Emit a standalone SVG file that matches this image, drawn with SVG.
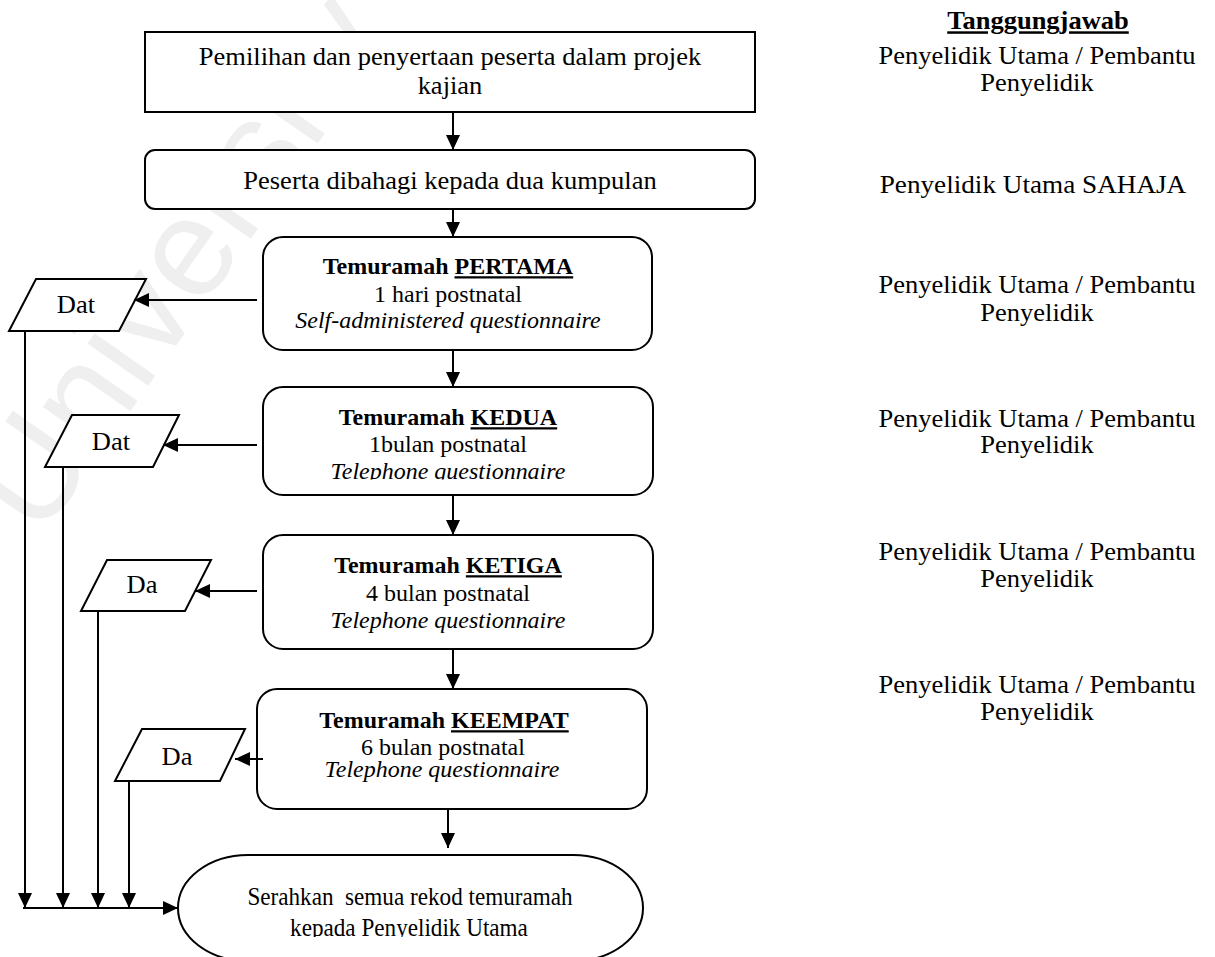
<svg xmlns="http://www.w3.org/2000/svg" width="1215" height="957" viewBox="0 0 1215 957">
  <defs>
    <style>
      .box{fill:#fff;stroke:#000;stroke-width:2}
      .t{font-family:"Liberation Serif","Times New Roman",serif;fill:#000;text-anchor:middle;
         transform-box:fill-box;transform-origin:50% 100%;transform:scaleY(0.94)}
      .big{font-size:26.5px}
      .med{font-size:24px}
      .sm{font-size:24.5px;transform:scale(0.945,1)}
      .b{font-weight:bold}
      .i{font-style:italic}
      .u{text-decoration:underline}
      .wire{fill:none;stroke:#000;stroke-width:2}
      .wm{font-family:"Liberation Sans",Arial,sans-serif;font-size:140px;fill:#efefef}
    </style>
    <marker id="ah" markerUnits="userSpaceOnUse" markerWidth="15" markerHeight="14" refX="15" refY="7" orient="auto">
      <path d="M0,0 L15,7 L0,14 z" fill="#000"/>
    </marker>
    <clipPath id="clipKedua"><rect x="260" y="380" width="400" height="99.5"/></clipPath>
    <clipPath id="clipEnd"><rect x="170" y="850" width="480" height="87"/></clipPath>
  </defs>

  <rect x="0" y="0" width="1215" height="957" fill="#fff"/>

  <!-- background watermark -->
  <text class="wm" transform="translate(40,540) rotate(-55)">University</text>

  <!-- responsibility column -->
  <g id="responsibility">
    <text class="t big b" x="1038" y="29"><tspan class="u">Tanggungjawab</tspan></text>
    <text class="t big" x="1037" y="64">Penyelidik Utama / Pembantu</text>
    <text class="t big" x="1037" y="91">Penyelidik</text>
    <text class="t big" x="1033" y="193" style="font-size:27.2px">Penyelidik Utama SAHAJA</text>
    <text class="t big" x="1037" y="293">Penyelidik Utama / Pembantu</text>
    <text class="t big" x="1037" y="321">Penyelidik</text>
    <text class="t big" x="1037" y="427">Penyelidik Utama / Pembantu</text>
    <text class="t big" x="1037" y="453">Penyelidik</text>
    <text class="t big" x="1037" y="560">Penyelidik Utama / Pembantu</text>
    <text class="t big" x="1037" y="587">Penyelidik</text>
    <text class="t big" x="1037" y="693">Penyelidik Utama / Pembantu</text>
    <text class="t big" x="1037" y="720">Penyelidik</text>
  </g>

  <!-- process steps -->
  <g id="selection">
    <rect class="box" x="145" y="32" width="610" height="80"/>
    <text class="t big" x="450" y="65">Pemilihan dan penyertaan peserta dalam projek</text>
    <text class="t big" x="450" y="94">kajian</text>
  </g>

  <g id="grouping">
    <rect class="box" x="145" y="150" width="610" height="59" rx="10" ry="10"/>
    <text class="t big" x="450" y="189">Peserta dibahagi kepada dua kumpulan</text>
  </g>

  <g id="interview1">
    <rect class="box" x="263" y="237" width="389" height="113" rx="20" ry="20"/>
    <text class="t med b" x="448" y="274">Temuramah <tspan class="u">PERTAMA</tspan></text>
    <text class="t med" x="448" y="302">1 hari postnatal</text>
    <text class="t med i" x="448" y="328">Self-administered questionnaire</text>
  </g>

  <g id="interview2">
    <rect class="box" x="263" y="387" width="390" height="108" rx="20" ry="20"/>
    <text class="t med b" x="448" y="425">Temuramah <tspan class="u">KEDUA</tspan></text>
    <text class="t med" x="448" y="452">1bulan postnatal</text>
    <g clip-path="url(#clipKedua)">
      <text class="t med i" x="448" y="479">Telephone questionnaire</text>
    </g>
  </g>

  <g id="interview3">
    <rect class="box" x="263" y="535" width="390" height="114" rx="20" ry="20"/>
    <text class="t med b" x="448" y="573">Temuramah <tspan class="u">KETIGA</tspan></text>
    <text class="t med" x="448" y="601">4 bulan postnatal</text>
    <text class="t med i" x="448" y="628">Telephone questionnaire</text>
  </g>

  <g id="interview4">
    <rect class="box" x="257" y="689" width="390" height="120" rx="20" ry="20"/>
    <text class="t med b" x="444" y="728">Temuramah <tspan class="u">KEEMPAT</tspan></text>
    <text class="t med" x="443" y="755">6 bulan postnatal</text>
    <text class="t med i" x="442" y="777">Telephone questionnaire</text>
  </g>

  <g id="handover">
    <rect class="box" x="178" y="855" width="465" height="106" rx="70" ry="53"/>
    <text class="t sm" x="410" y="905" xml:space="preserve">Serahkan  semua rekod temuramah</text>
    <g clip-path="url(#clipEnd)">
      <text class="t sm" x="409" y="936">kepada Penyelidik Utama</text>
    </g>
  </g>

  <!-- data records -->
  <g id="data1">
    <polygon class="box" points="36,279 146,279 119,331 9,331"/>
    <text class="t big" x="76" y="313">Dat</text>
  </g>
  <g id="data2">
    <polygon class="box" points="72,415 179,415 153,467 45,467"/>
    <text class="t big" x="111" y="450">Dat</text>
  </g>
  <g id="data3">
    <polygon class="box" points="107,560 211,560 185,611 81,611"/>
    <text class="t big" x="142" y="593">Da</text>
  </g>
  <g id="data4">
    <polygon class="box" points="142,729 245,729 220,781 115,781"/>
    <text class="t big" x="177" y="765">Da</text>
  </g>

  <!-- connectors -->
  <g id="connectors" class="wire">
    <path d="M453,112 V150" marker-end="url(#ah)"/>
    <path d="M453,209 V237" marker-end="url(#ah)"/>
    <path d="M453,350 V387" marker-end="url(#ah)"/>
    <path d="M453,495 V535" marker-end="url(#ah)"/>
    <path d="M453,649 V689" marker-end="url(#ah)"/>
    <path d="M448,809 V848" marker-end="url(#ah)"/>

    <path d="M257,300 H134" marker-end="url(#ah)"/>
    <path d="M257,445 H163" marker-end="url(#ah)"/>
    <path d="M257,591 H195" marker-end="url(#ah)"/>
    <path d="M263,759 H235" marker-end="url(#ah)"/>

    <path d="M25,331 V908" marker-end="url(#ah)"/>
    <path d="M63,467 V908" marker-end="url(#ah)"/>
    <path d="M98,611 V908" marker-end="url(#ah)"/>
    <path d="M129,781 V908" marker-end="url(#ah)"/>
    <path d="M23,908 H178" marker-end="url(#ah)"/>
  </g>
</svg>
